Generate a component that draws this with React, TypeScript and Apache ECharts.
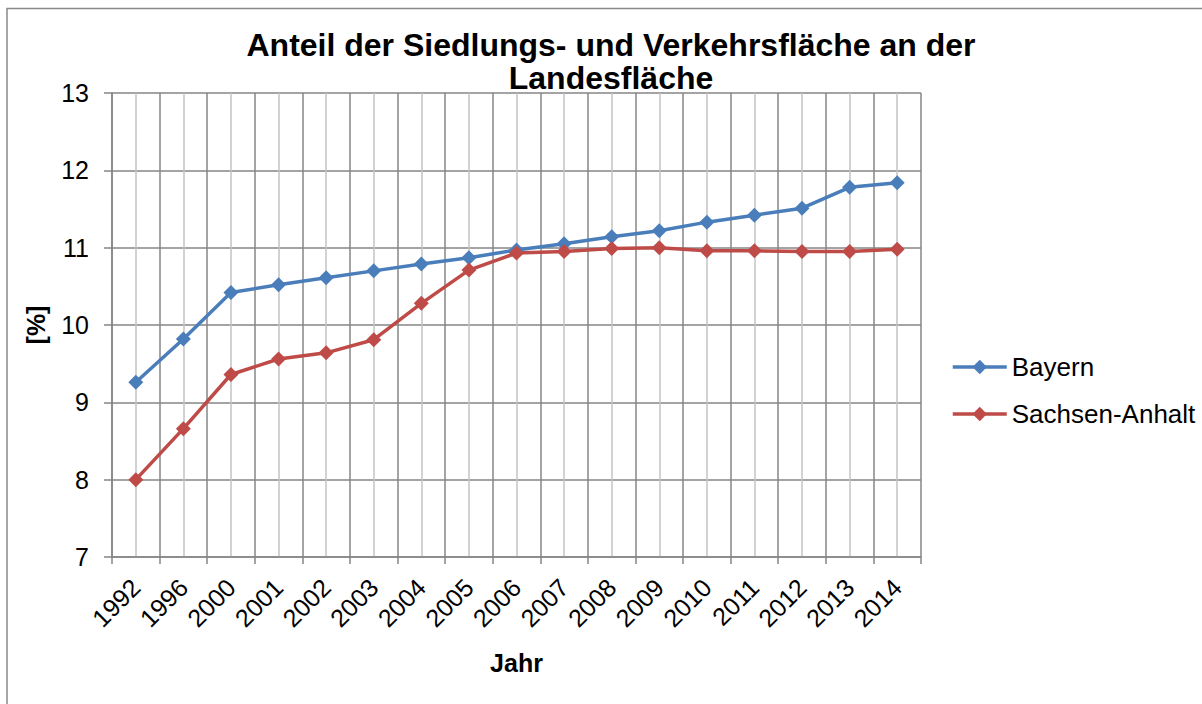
import React, { useEffect, useRef } from "react";
import * as echarts from "echarts";

const titleText = "Anteil der Siedlungs- und Verkehrsfläche an der\nLandesfläche";
const years = ["1992", "1996", "2000", "2001", "2002", "2003", "2004", "2005", "2006", "2007", "2008", "2009", "2010", "2011", "2012", "2013", "2014"];
const bayern = [9.26, 9.82, 10.42, 10.52, 10.61, 10.7, 10.79, 10.87, 10.97, 11.05, 11.14, 11.22, 11.33, 11.42, 11.51, 11.78, 11.84];
const sachsenAnhalt = [8.0, 8.66, 9.36, 9.56, 9.64, 9.81, 10.28, 10.71, 10.93, 10.95, 10.99, 11.0, 10.96, 10.96, 10.95, 10.95, 10.98];
const yMin = 7;
const yMax = 13;

const FONT = "'Liberation Sans', Arial, sans-serif";
const MAJOR = "#868686";
const MINOR = "#C3C3C3";

export default function App() {
  const ref = useRef<HTMLDivElement>(null);
  useEffect(() => {
    if (!ref.current) return;
    const chart = echarts.init(ref.current, null, { renderer: "svg" });
    const halfSteps = Array.from({ length: years.length * 2 + 1 }, (_, i) => String(i));
    chart.setOption({
      animation: false,
      backgroundColor: "#ffffff",
      textStyle: { fontFamily: FONT },
      title: {
        text: titleText,
        left: 606,
        top: 23,
        textAlign: "center",
        textStyle: { fontFamily: FONT, fontSize: 32, fontWeight: "bold", color: "#000", lineHeight: 33 },
      },
      graphic: [
        {
          type: "rect",
          shape: { x: 7, y: 8.5, width: 1230, height: 720 },
          style: { fill: "none", stroke: "#898989", lineWidth: 1.5 },
          silent: true,
        },
      ],
      legend: {
        orient: "vertical",
        left: 951,
        top: 354,
        padding: 0,
        itemWidth: 54,
        itemHeight: 18,
        itemGap: 21,
        lineStyle: { width: 3.5 },
        textStyle: { fontFamily: FONT, fontSize: 26, color: "#000", lineHeight: 26 },
        data: ["Bayern", "Sachsen-Anhalt"],
      },
      grid: { left: 112, right: 281, top: 93, bottom: 147, containLabel: false },
      xAxis: [
        {
          type: "category",
          data: years,
          boundaryGap: true,
          name: "Jahr",
          nameLocation: "middle",
          nameGap: 93,
          nameTextStyle: { fontFamily: FONT, fontSize: 25, fontWeight: "bold", color: "#000" },
          axisLine: { lineStyle: { color: MAJOR, width: 1.5 } },
          axisTick: { show: true, length: 7, alignWithLabel: false, lineStyle: { color: MAJOR, width: 1.5 } },
          axisLabel: { rotate: 45, fontFamily: FONT, fontSize: 25, color: "#000", margin: 26, interval: 0 },
          splitLine: { show: true, interval: 0, lineStyle: { color: MAJOR, width: 1.5 } },
        },
        {
          type: "category",
          data: halfSteps,
          boundaryGap: false,
          position: "bottom",
          axisLine: { show: false },
          axisTick: { show: false },
          axisLabel: { show: false },
          splitLine: {
            show: true,
            interval: (i: number) => i % 2 === 1,
            lineStyle: { color: MINOR, width: 1.5 },
          },
        },
      ],
      yAxis: {
        type: "value",
        min: yMin,
        max: yMax,
        interval: 1,
        name: "[%]",
        nameLocation: "middle",
        nameGap: 64,
        nameRotate: 90,
        nameTextStyle: { fontFamily: FONT, fontSize: 25, fontWeight: "bold", color: "#000" },
        axisLine: { show: true, lineStyle: { color: MAJOR, width: 1.5 } },
        axisTick: { show: true, length: 8, lineStyle: { color: MAJOR, width: 1.5 } },
        axisLabel: { fontFamily: FONT, fontSize: 25, color: "#000", margin: 23 },
        splitLine: { show: true, lineStyle: { color: MAJOR, width: 1.5 } },
      },
      series: [
        {
          name: "Bayern",
          type: "line",
          data: bayern,
          xAxisIndex: 0,
          symbol: "diamond",
          symbolSize: 15,
          color: "#4A7EBB",
          lineStyle: { color: "#4A7EBB", width: 3.5 },
          itemStyle: { color: "#4A7EBB" },
          z: 3,
        },
        {
          name: "Sachsen-Anhalt",
          type: "line",
          data: sachsenAnhalt,
          xAxisIndex: 0,
          symbol: "diamond",
          symbolSize: 15,
          color: "#BE4B48",
          lineStyle: { color: "#BE4B48", width: 3.5 },
          itemStyle: { color: "#BE4B48" },
          z: 3,
        },
      ],
    });
    return () => chart.dispose();
  }, []);
  return <div ref={ref} style={{ position: "fixed", left: 0, top: 0, width: 1202, height: 704 }} />;
}
